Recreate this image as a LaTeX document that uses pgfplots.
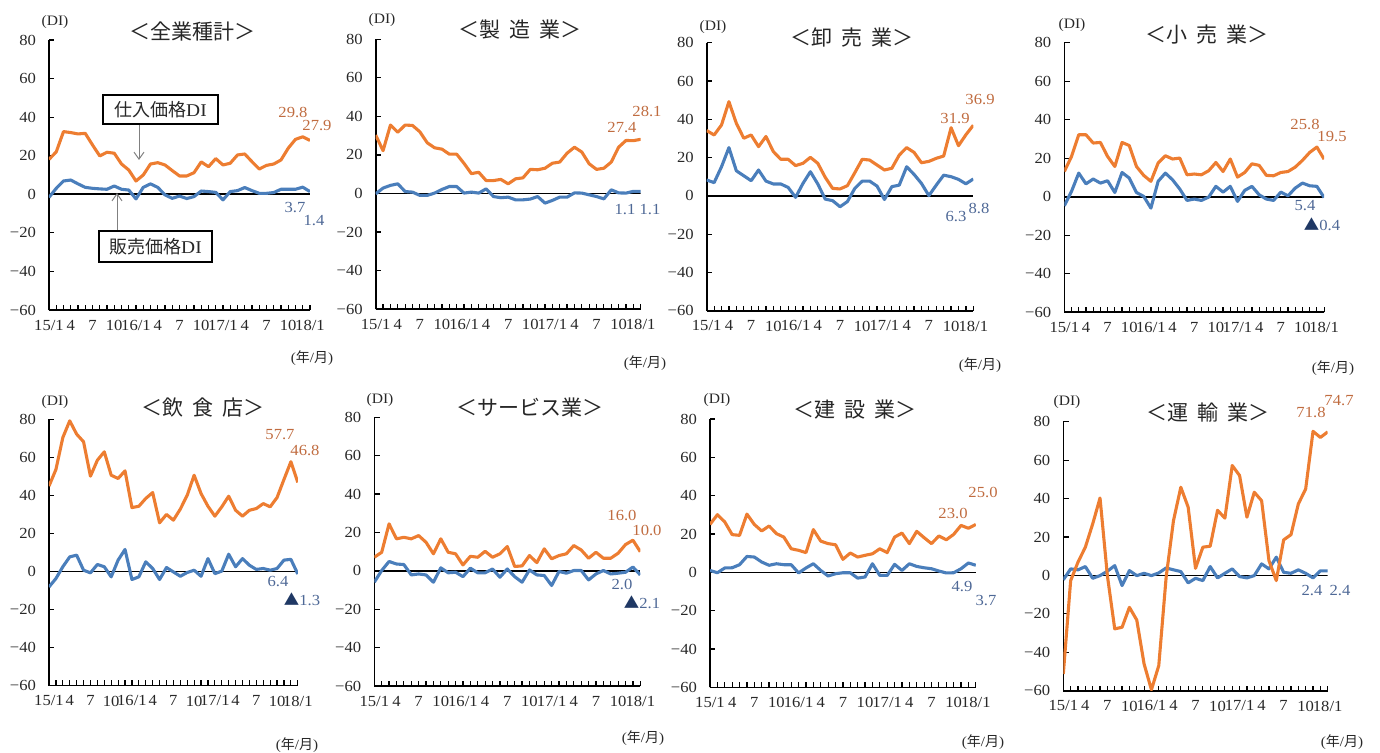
\documentclass[border=0pt]{standalone}
\usepackage{fontspec}
\setmainfont{Liberation Serif}[FakeStretch=1.08]
\newfontfamily\jp{Noto Sans CJK JP}
\usepackage{pgfplots}
\pgfplotsset{compat=1.18}
\usepackage{pgfplotstable}
\usetikzlibrary{arrows.meta}
\definecolor{lineO}{RGB}{237,125,49}
\definecolor{lineB}{RGB}{74,126,187}
\definecolor{labO}{RGB}{192,108,64}
\definecolor{labB}{RGB}{78,104,150}
\definecolor{tri}{RGB}{31,56,100}
\definecolor{tickc}{RGB}{40,40,40}

\pgfplotsset{panel/.style={
  scale only axis, anchor=north west,
  xmin=0, xmax=36, ymin=-60, ymax=80,
  axis x line*=bottom, axis y line*=left,
  axis line style={-, line width=0.8pt, black},
  xtick={0,3,...,36},
  xticklabels={15/1,4,7,10,16/1,4,7,10,17/1,4,7,10,18/1},
  minor xtick={0,...,36},
  ytick={-60,-40,...,80},
  yticklabels={−60,−40,−20,0,20,40,60,80},
  tick align=inside,
  major tick length=2.6pt, minor tick length=2.6pt,
  tick style={black, line width=0.6pt},
  tick label style={font=\fontsize{7.7}{8}\selectfont, text=tickc},
  yticklabel style={xshift=-3pt},
  xticklabel style={yshift=-1.5pt},
}}

\newcommand{\series}[1]{%
  \draw[black, line width=0.8pt] (axis cs:0,0) -- (axis cs:36,0);
  \addplot[lineB, line width=1.55pt, line join=round] table[x=x,y=s] {#1};
  \addplot[lineO, line width=1.55pt, line join=round] table[x=x,y=b] {#1};
}

% x = month index from 15/1, b = 仕入価格DI, s = 販売価格DI
\pgfplotstableread{
x b s
0 18.1 -1.6
1 22.0 3.1
2 32.5 6.9
3 32.0 7.4
4 31.3 5.4
5 31.6 3.6
6 25.6 3.1
7 19.9 2.8
8 21.8 2.6
9 21.3 4.3
10 15.7 2.6
11 12.6 2.2
12 6.9 -2.4
13 10.0 3.6
14 15.7 5.4
15 16.4 3.6
16 15.2 -0.3
17 12.3 -2.1
18 9.5 -0.9
19 9.5 -2.2
20 11.2 -1.2
21 16.8 1.7
22 14.3 1.4
23 18.5 1.0
24 15.2 -2.9
25 16.1 1.4
26 20.4 1.9
27 20.9 3.5
28 16.9 1.9
29 13.1 0.5
30 15.0 0.5
31 15.7 0.9
32 17.8 2.6
33 23.9 2.6
34 28.5 2.6
35 29.8 3.7
36 27.9 1.4
}\tA

\pgfplotstableread{
x b s
0 30.3 -0.2
1 22.2 2.8
2 35.5 4.2
3 31.8 5.0
4 35.5 1.0
5 35.3 0.7
6 32.0 -1.0
7 26.3 -1.0
8 23.7 0.2
9 23.0 2.1
10 20.4 3.6
11 20.4 3.6
12 15.6 0.2
13 10.3 0.7
14 11.0 0.2
15 6.7 2.4
16 6.7 -1.6
17 7.3 -2.2
18 5.0 -1.9
19 7.6 -3.3
20 8.1 -3.3
21 12.5 -2.9
22 12.3 -1.6
23 13.1 -5.0
24 15.7 -3.6
25 16.3 -1.9
26 20.9 -1.9
27 24.0 0.3
28 21.5 0.2
29 15.4 -0.7
30 12.5 -1.6
31 13.1 -2.8
32 16.3 1.9
33 24.0 0.3
34 27.5 0.2
35 27.4 1.1
36 28.1 1.1
}\tB

\pgfplotstableread{
x b s
0 34.1 8.3
1 31.8 6.9
2 37.0 15.2
3 49.2 25.2
4 37.9 13.1
5 30.1 10.5
6 31.8 7.9
7 25.7 13.5
8 31.0 7.7
9 23.1 6.2
10 19.1 6.2
11 19.1 4.4
12 15.8 -0.8
13 17.0 6.5
14 20.1 12.6
15 17.0 6.2
16 9.7 -1.7
17 3.9 -2.5
18 3.6 -5.7
19 5.3 -3.0
20 12.1 3.9
21 19.1 7.7
22 18.7 7.7
23 16.1 5.1
24 13.5 -1.9
25 14.4 4.8
26 21.3 5.6
27 25.2 15.2
28 22.7 11.2
29 17.3 6.5
30 18.0 0.1
31 19.6 5.6
32 20.8 10.8
33 35.6 10.0
34 26.2 8.6
35 31.9 6.3
36 36.9 8.8
}\tC

\pgfplotstableread{
x b s
0 13.1 -4.7
1 20.9 2.8
2 32.2 12.3
3 32.2 6.7
4 27.9 9.2
5 28.2 7.1
6 20.9 8.3
7 15.7 2.2
8 28.2 12.6
9 26.6 9.7
10 15.7 2.2
11 11.1 0.2
12 8.0 -5.9
13 17.5 8.0
14 21.3 12.3
15 19.6 8.8
16 20.1 4.0
17 11.4 -1.9
18 11.8 -1.2
19 11.4 -1.9
20 13.5 -0.2
21 17.8 5.4
22 13.1 2.4
23 19.6 5.4
24 10.2 -2.4
25 12.6 3.3
26 17.1 5.4
27 16.3 1.0
28 11.1 -1.2
29 10.9 -1.9
30 12.6 2.4
31 13.1 0.5
32 15.4 4.5
33 18.9 7.1
34 23.0 5.7
35 25.8 5.4
36 19.5 -0.4
}\tD

\pgfplotstableread{
x b s
0 44.9 -8.1
1 53.6 -3.7
2 70.4 2.5
3 79.2 7.7
4 72.2 8.6
5 68.2 0.7
6 50.1 -0.7
7 58.5 3.7
8 62.9 2.5
9 50.6 -2.8
10 48.9 6.0
11 52.9 11.6
12 33.6 -4.2
13 34.3 -2.8
14 38.4 5.1
15 41.5 1.6
16 25.6 -4.2
17 30.0 2.1
18 27.0 -0.2
19 32.8 -2.5
20 40.1 -0.5
21 50.6 0.7
22 41.0 -2.5
23 34.3 6.8
24 29.1 -1.1
25 34.0 0.2
26 39.6 9.1
27 32.2 2.5
28 29.1 6.8
29 32.2 3.3
30 33.1 1.1
31 35.7 1.6
32 34.0 0.7
33 38.9 1.6
34 48.4 6.0
35 57.7 6.4
36 46.8 -1.3
}\tE

\pgfplotstableread{
x b s
0 7.1 -5.9
1 9.7 0.2
2 24.5 4.9
3 16.7 3.6
4 17.5 3.3
5 16.7 -2.1
6 18.4 -1.6
7 14.9 -2.1
8 8.9 -5.9
9 16.7 1.6
10 9.7 -1.0
11 8.9 -0.7
12 3.1 -3.0
13 7.6 1.4
14 7.1 -1.0
15 10.2 -1.0
16 7.1 1.0
17 8.9 -3.3
18 12.7 1.0
19 2.3 -3.0
20 2.6 -5.9
21 8.0 0.5
22 4.3 -2.1
23 11.5 -2.4
24 6.3 -7.6
25 8.0 -0.3
26 8.9 -1.2
27 13.2 0.2
28 10.9 0.2
29 6.6 -4.7
30 9.7 -1.6
31 6.6 0.2
32 6.6 -1.6
33 9.2 -1.2
34 13.7 -0.7
35 16.0 2.0
36 10.0 -2.1
}\tF

\pgfplotstableread{
x b s
0 25.0 1.0
1 30.1 -0.2
2 26.3 2.3
3 19.7 2.4
4 19.3 4.0
5 30.4 8.3
6 25.0 8.0
7 21.6 5.4
8 24.2 3.7
9 20.2 4.5
10 18.4 4.0
11 12.3 4.0
12 11.5 -0.3
13 10.3 2.3
14 22.3 4.5
15 16.3 1.0
16 15.0 -1.9
17 14.4 -0.7
18 6.8 -0.2
19 10.1 -0.2
20 8.0 -3.0
21 8.9 -2.4
22 9.7 4.5
23 12.3 -1.6
24 10.3 -1.6
25 18.4 4.2
26 20.5 1.0
27 15.0 4.5
28 21.4 3.1
29 18.1 2.4
30 15.0 1.9
31 19.0 0.7
32 17.0 -0.3
33 19.8 -0.2
34 24.5 1.9
35 23.0 4.9
36 25.0 3.7
}\tG

\pgfplotstableread{
x b s
0 -51.3 -2.3
1 -2.7 3.4
2 6.9 2.9
3 14.7 4.6
4 26.8 -1.5
5 40.3 -0.1
6 -0.1 2.2
7 -27.8 5.1
8 -27.0 -5.3
9 -16.6 2.5
10 -23.2 -0.1
11 -46.1 1.1
12 -59.5 -0.1
13 -46.9 1.3
14 -1.0 3.9
15 28.5 2.9
16 45.9 2.0
17 35.5 -3.9
18 3.7 -1.5
19 14.7 -2.7
20 15.2 4.6
21 33.9 -1.3
22 29.8 1.1
23 57.2 3.4
24 52.0 -0.6
25 30.3 -1.3
26 43.3 -0.1
27 38.9 6.0
28 7.7 3.4
29 -2.7 9.5
30 18.5 1.6
31 21.2 1.1
32 37.2 2.9
33 45.0 1.1
34 75.0 -1.3
35 71.8 2.4
36 74.7 2.4
}\tH

\newcommand{\ttl}[1]{{\jp\fontsize{10.5}{12}\selectfont #1}}
\newcommand{\gp}{\hspace{0.45em}}
\newcommand{\lf}{\fontsize{7.7}{8}\selectfont}

\begin{document}
\begin{tikzpicture}
\useasboundingbox (0,0) rectangle (690pt,-376.5pt);

\begin{axis}[panel, at={(24.5pt,-20pt)}, width=130.5pt, height=135pt] \series{\tA} \end{axis}
\begin{axis}[panel, at={(187.85pt,-19.65pt)}, width=132.5pt, height=134.9pt] \series{\tB} \end{axis}
\begin{axis}[panel, at={(353.35pt,-21.35pt)}, width=133.3pt, height=134pt] \series{\tC} \end{axis}
\begin{axis}[panel, at={(532.15pt,-21.35pt)}, width=129.9pt, height=134.8pt] \series{\tD} \end{axis}
\begin{axis}[panel, at={(24.5pt,-209.65pt)}, width=124.4pt, height=133.2pt] \series{\tE} \end{axis}
\begin{axis}[panel, at={(187.15pt,-208.65pt)}, width=133pt, height=134.4pt] \series{\tF} \end{axis}
\begin{axis}[panel, at={(355pt,-209.5pt)}, width=132.9pt, height=134.2pt] \series{\tG} \end{axis}
\begin{axis}[panel, at={(531.65pt,-210.85pt)}, width=132.2pt, height=134.5pt] \series{\tH} \end{axis}

\begin{scope}[x=0.5pt,y=-0.5pt]
% titles
\node[text=black!85] at (192,32) {\ttl{＜全業種計＞}};
\node[text=black!85] at (520,30) {\ttl{＜製\gp 造\gp 業＞}};
\node[text=black!85] at (852,37) {\ttl{＜卸\gp 売\gp 業＞}};
\node[text=black!85] at (1207,35) {\ttl{＜小\gp 売\gp 業＞}};
\node[text=black!85] at (203,408) {\ttl{＜飲\gp 食\gp 店＞}};
\node[text=black!85] at (530,408) {\ttl{＜サービス業＞}};
\node[text=black!85] at (855,410) {\ttl{＜建\gp 設\gp 業＞}};
\node[text=black!85] at (1208,413) {\ttl{＜運\gp 輸\gp 業＞}};

% (DI)
\foreach \a/\b in {55/22,382/20,713/27,1072/25,55/402,380/400,717/400,1067/402}
  \node[text=tickc, font=\fontsize{7.2}{8}\selectfont] at (\a,\b) {(DI)};

% (年/月)
\foreach \a/\b in {312/358,645/363,980/365,1333/368,297/745,643/738,983/742,1342/742}
  \node[text=tickc, font=\fontsize{7}{8}\selectfont] at (\a,\b) {({\jp 年}/{\jp 月})};

% value labels
\begin{scope}[font=\lf]
\node[text=labO] at (293,112) {29.8}; \node[text=labO] at (317,126) {27.9};
\node[text=labB] at (295,208) {3.7};  \node[text=labB] at (314,221) {1.4};
\node[text=labO] at (622,128) {27.4}; \node[text=labO] at (647,111) {28.1};
\node[text=labB] at (625,210) {1.1};  \node[text=labB] at (650,210) {1.1};
\node[text=labO] at (955,119) {31.9}; \node[text=labO] at (980,100) {36.9};
\node[text=labB] at (956,217) {6.3};  \node[text=labB] at (979,208) {8.8};
\node[text=labO] at (1305,124) {25.8}; \node[text=labO] at (1332,137) {19.5};
\node[text=labB] at (1305,206) {5.4};  \node[text=labB] at (1322,224) {{\jp\color{tri}▲}0.4};
\node[text=labO] at (280,435) {57.7}; \node[text=labO] at (305,450) {46.8};
\node[text=labB] at (278,582) {6.4};  \node[text=labB] at (302,599) {{\jp\color{tri}▲}1.3};
\node[text=labO] at (622,515) {16.0}; \node[text=labO] at (647,530) {10.0};
\node[text=labB] at (622,584) {2.0};  \node[text=labB] at (642,602) {{\jp\color{tri}▲}2.1};
\node[text=labO] at (953,513) {23.0}; \node[text=labO] at (983,492) {25.0};
\node[text=labB] at (962,587) {4.9};  \node[text=labB] at (986,601) {3.7};
\node[text=labO] at (1311,412) {71.8}; \node[text=labO] at (1339,401) {74.7};
\node[text=labB] at (1312,591) {2.4};  \node[text=labB] at (1340,591) {2.4};
\end{scope}

% callouts
\draw[gray, line width=0.5pt, -{Straight Barb[length=3.5pt,width=5pt]}] (139,124) -- (139,160);
\draw[gray, line width=0.5pt, -{Straight Barb[length=3.5pt,width=5pt]}] (117,231) -- (117,193);
\draw[black, line width=0.6pt, fill=white] (103,95) rectangle (218,124);
\node[text=tickc] at (160.5,109.5) {{\jp\fontsize{9}{10}\selectfont 仕入価格}{\fontsize{9}{10}\selectfont DI}};
\draw[black, line width=0.6pt, fill=white] (99,231) rectangle (212,262);
\node[text=tickc] at (155.5,246.5) {{\jp\fontsize{9}{10}\selectfont 販売価格}{\fontsize{9}{10}\selectfont DI}};
\end{scope}
\end{tikzpicture}
\end{document}
